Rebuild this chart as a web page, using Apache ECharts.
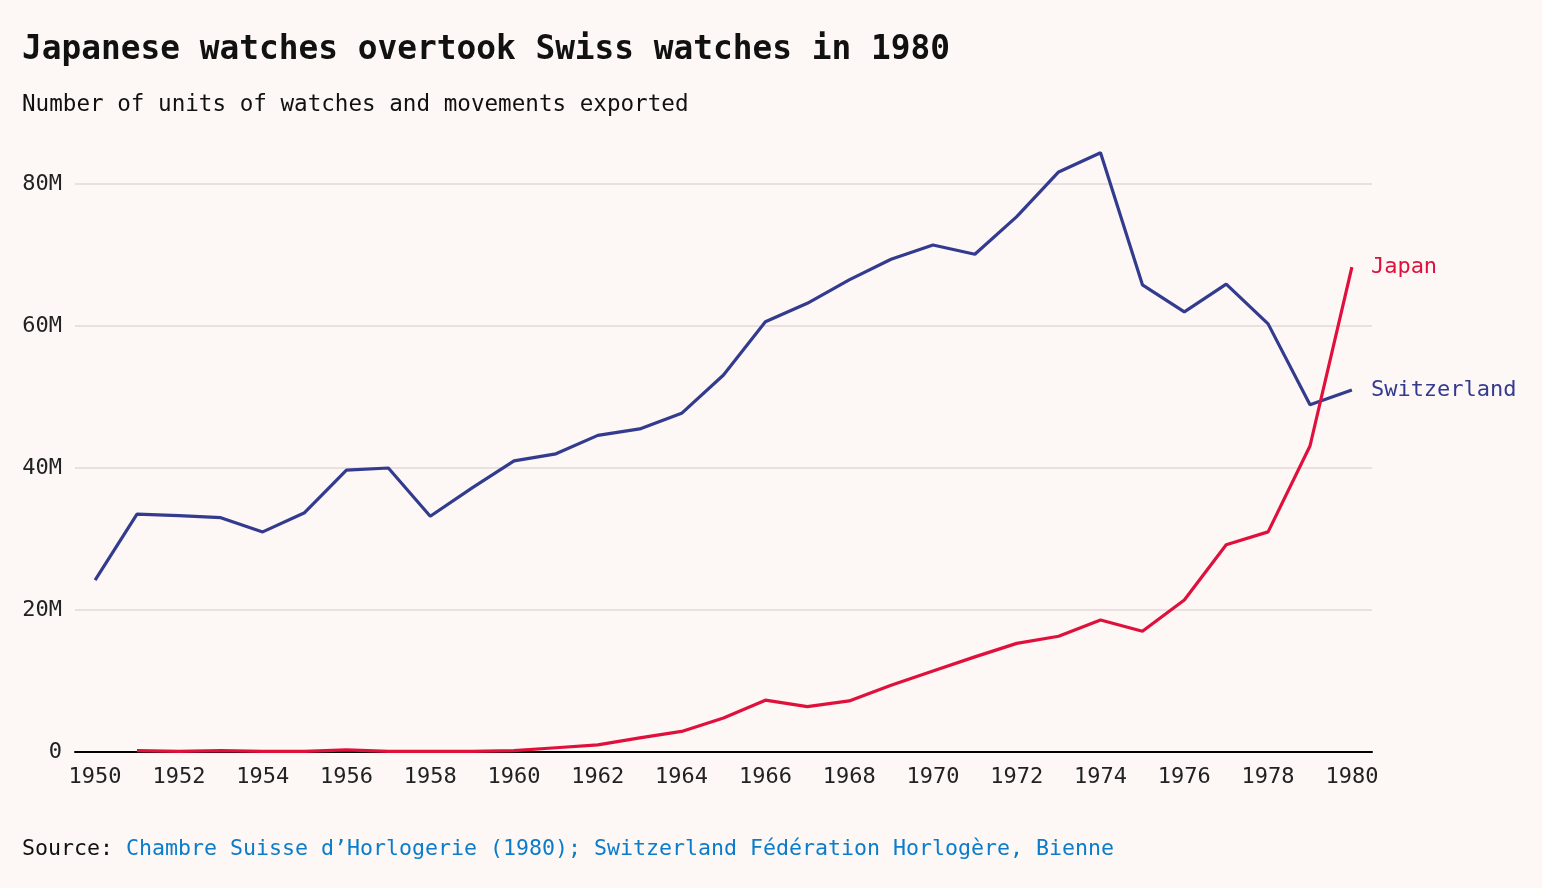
<!DOCTYPE html>
<html>
<head>
<meta charset="utf-8">
<script src="https://cdn.jsdelivr.net/npm/echarts@6/dist/echarts.min.js"></script>
<style>
html,body{margin:0;padding:0;background:#fdf7f5;}
#chart{width:1542px;height:888px;}
</style>
</head>
<body>
<div id="chart"></div>
<script>
const years = [1950,1951,1952,1953,1954,1955,1956,1957,1958,1959,1960,1961,1962,1963,1964,1965,1966,1967,1968,1969,1970,1971,1972,1973,1974,1975,1976,1977,1978,1979,1980];
const switzerland = [24.2,33.5,33.3,33.0,31.0,33.7,39.7,40.0,33.2,37.2,41.0,42.0,44.6,45.5,47.7,53.1,60.6,63.2,66.5,69.4,71.4,70.1,75.4,81.7,84.4,65.8,62.0,65.9,60.3,48.9,51.0];
const japan = [null,0.2,0.1,0.2,0.1,0.1,0.3,0.1,0.1,0.1,0.2,0.6,1.0,2.0,2.9,4.8,7.3,6.4,7.2,9.4,11.4,13.4,15.3,16.3,18.6,17.0,21.4,29.2,31.0,43.1,68.3];
const xTicks = [1950,1952,1954,1956,1958,1960,1962,1964,1966,1968,1970,1972,1974,1976,1978,1980];
const yTicks = [0,20,40,60,80];

const mono = "'DejaVu Sans Mono', monospace";
const toPairs = arr => years.map((y,i) => [y, arr[i] == null ? null : arr[i]*1e6]).filter(p => p[1] !== null);

const chart = echarts.init(document.getElementById('chart'));
chart.setOption({
  backgroundColor: '#fdf7f5',
  animation: false,
  title: [
    {text: 'Japanese watches overtook Swiss watches in 1980', left: 17, top: 29,
     textStyle: {fontFamily: mono, fontWeight: 'bold', fontSize: 32.8, color: '#111'}},
    {text: 'Number of units of watches and movements exported', left: 17, top: 89,
     textStyle: {fontFamily: mono, fontWeight: 'normal', fontSize: 22.6, color: '#111'}},
    {text: '{a|Source: }{b|Chambre Suisse d’Horlogerie (1980); Switzerland Fédération Horlogère, Bienne}',
     left: 17, top: 833,
     textStyle: {fontFamily: mono, fontSize: 21.6, fontWeight: 'normal',
       rich: {a: {fontFamily: mono, fontSize: 21.6, fontWeight: 'normal', color: '#111'},
              b: {fontFamily: mono, fontSize: 21.6, fontWeight: 'normal', color: '#0a7ccc'}}}}
  ],
  grid: {left: 75, right: 170, top: 184, bottom: 136, containLabel: false},
  xAxis: {
    type: 'value', min: 1949.52, max: 1980.48,
    axisLine: {show: true, lineStyle: {color: '#000', width: 2}},
    axisTick: {show: false},
    splitLine: {show: false},
    axisLabel: {customValues: xTicks, formatter: v => String(v), fontFamily: mono, fontSize: 22, color: '#222', margin: 14}
  },
  yAxis: {
    type: 'value', min: 0, max: 80e6, interval: 20e6,
    axisLine: {show: false}, axisTick: {show: false},
    splitLine: {lineStyle: {color: '#e2d9d7', width: 1.5}},
    axisLabel: {formatter: v => v === 0 ? '0' : (v/1e6) + 'M', fontFamily: mono, fontSize: 22, color: '#222', margin: 13,
                verticalAlign: 'middle', padding: [4,0,0,0]}
  },
  series: [
    {name: 'Switzerland', type: 'line', data: toPairs(switzerland), showSymbol: false, clip: false,
     lineStyle: {color: '#333b8f', width: 3.2}, itemStyle: {color: '#333b8f'},
     endLabel: {show: true, formatter: '{a}', distance: 19, color: '#333b8f', fontFamily: mono, fontSize: 22, padding: [4,0,0,0]}},
    {name: 'Japan', type: 'line', data: toPairs(japan), showSymbol: false, clip: false,
     lineStyle: {color: '#e0103c', width: 3.2}, itemStyle: {color: '#e0103c'},
     endLabel: {show: true, formatter: '{a}', distance: 19, color: '#e0103c', fontFamily: mono, fontSize: 22, padding: [4,0,0,0]}}
  ]
});
</script>
</body>
</html>
